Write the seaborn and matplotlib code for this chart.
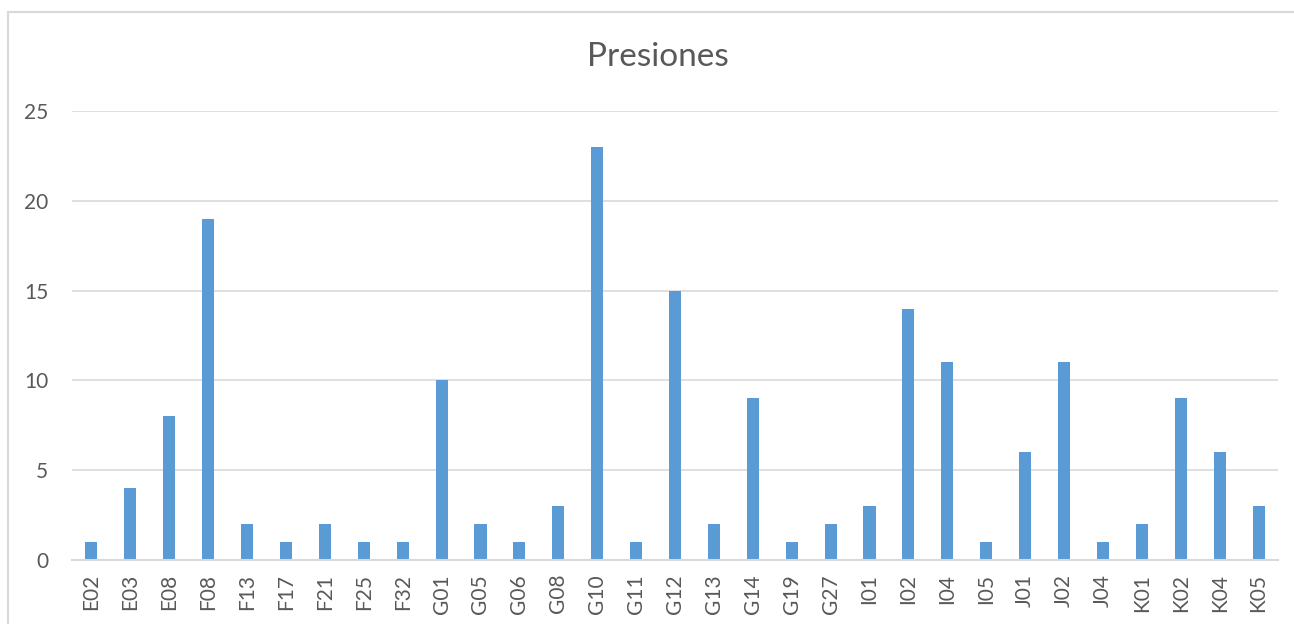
import matplotlib
matplotlib.use("Agg")
import matplotlib.pyplot as plt
import seaborn as sns
import pandas as pd
from matplotlib.patches import Rectangle

categories = ["E02", "E03", "E08", "F08", "F13", "F17", "F21", "F25", "F32", "G01",
              "G05", "G06", "G08", "G10", "G11", "G12", "G13", "G14", "G19", "G27",
              "I01", "I02", "I04", "I05", "J01", "J02", "J04", "K01", "K02", "K04", "K05"]
values = [1, 4, 8, 19, 2, 1, 2, 1, 1, 10,
          2, 1, 3, 23, 1, 15, 2, 9, 1, 2,
          3, 14, 11, 1, 6, 11, 1, 2, 9, 6, 3]
yticks = [0, 5, 10, 15, 20, 25]
title = "Presiones"

sns.set_theme(style="white")
plt.rcParams['font.family'] = ['Lato', 'DejaVu Sans']

df = pd.DataFrame({"cat": categories, "val": values})

fig = plt.figure(figsize=(12.94, 6.24), dpi=100)
ax = fig.add_axes([72/1294, 1 - 560/624, (1278-72)/1294, (560-111)/624])

sns.barplot(data=df, x="cat", y="val", ax=ax, color="#5B9BD5", width=0.31,
            saturation=1, edgecolor="none")

ax.set_ylim(0, 25)
ax.set_xlim(-0.5, len(categories) - 0.5)
ax.set_yticks(yticks)
ax.yaxis.grid(True, color="#D9D9D9", linewidth=1.2)
ax.set_axisbelow(True)
for s in ["top", "right", "left"]:
    ax.spines[s].set_visible(False)
ax.spines["bottom"].set_color("#D9D9D9")
ax.spines["bottom"].set_linewidth(1.5)
ax.set_xlabel("")
ax.set_ylabel("")
ax.tick_params(axis="y", length=0, pad=17, labelsize=15, labelcolor="#595959")
ax.tick_params(axis="x", length=0, pad=10, labelsize=15, labelcolor="#595959", labelrotation=90)

fig.text(658/1294, 1 - 57/624, title, ha="center", va="center", fontsize=24, color="#595959")

fig.patches.append(Rectangle((8/1294, -0.1), 1.2, 1 - 12/624 + 0.1,
                             transform=fig.transFigure, fill=False,
                             edgecolor="#D9D9D9", linewidth=1.5))

fig.savefig("out.png", dpi=100)
